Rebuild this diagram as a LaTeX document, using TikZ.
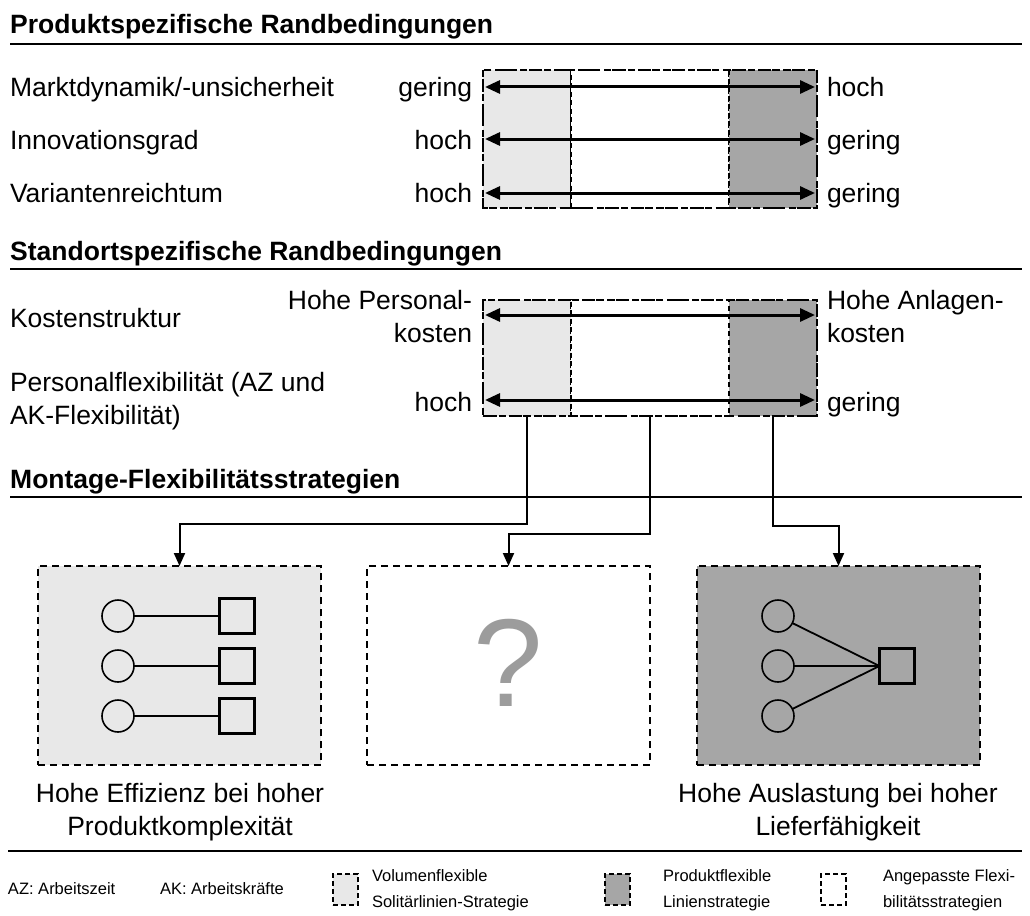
\documentclass[tikz,border=0pt]{standalone}
\usepackage{fontspec}
\setmainfont{Liberation Sans}
\usetikzlibrary{arrows.meta}
\definecolor{lightfill}{HTML}{E8E8E8}
\definecolor{darkfill}{HTML}{A6A6A6}
\definecolor{qgray}{HTML}{9C9C9C}

\begin{document}
\begin{tikzpicture}[x=1pt,y=-1pt,
  txt/.style={font=\fontsize{26.5}{33}\selectfont, inner sep=0pt, outer sep=0pt},
  head/.style={font=\fontsize{26.5}{33}\selectfont\bfseries, anchor=base west, inner sep=0pt},
  small/.style={font=\fontsize{16.5}{26}\selectfont, inner sep=0pt, outer sep=0pt, align=left},
  rule/.style={line width=2pt},
  cell/.style={draw, line width=1.1pt, dash pattern=on 5pt off 3.5pt, inner sep=0pt, outer sep=0pt},
  frame/.style={draw, line width=2pt, dash pattern=on 7pt off 5pt},
  bigbox/.style={draw, line width=2pt, dash pattern=on 7pt off 5pt, inner sep=0pt, outer sep=0pt,
    minimum width=283pt, minimum height=199pt},
  dbl/.style={line width=3pt, {Triangle[length=15pt,width=13pt]}-{Triangle[length=15pt,width=13pt]}},
  conn/.style={line width=2pt, -{Triangle[length=13pt,width=11pt]}},
  station/.style={draw, circle, line width=1.6pt, minimum size=32pt, inner sep=0pt, outer sep=0pt},
  product/.style={draw, rectangle, line width=3.5pt, minimum size=35pt, inner sep=0pt, outer sep=0pt},
  link/.style={line width=1.8pt},
  keybox/.style={draw, line width=1.8pt, dash pattern=on 5pt off 3pt, minimum width=25pt, minimum height=31pt, inner sep=0pt}
]
\useasboundingbox[fill=white] (0,0) rectangle (1030,915);

% ---------- section 1 ----------
\node[head] (h1) at (10,34) {Produktspezifische Randbedingungen};
\draw[rule] (10,44) -- (1022,44);

\node[cell, fill=lightfill, minimum width=88pt, minimum height=138pt] (pl) at (527,139) {};
\node[cell, fill=white, minimum width=158pt, minimum height=138pt] (pm) at (650,139) {};
\node[cell, fill=darkfill, minimum width=88pt, minimum height=138pt] (pr) at (773,139) {};
\draw[frame] (pl.north west) rectangle (pr.south east);

\node[txt, anchor=base west] (r1) at (10,96.5) {Marktdynamik/-unsicherheit};
\node[txt, anchor=base west] (r2) at (10,149.5) {Innovationsgrad};
\node[txt, anchor=base west] (r3) at (10,202.5) {Variantenreichtum};
\node[txt, anchor=base east] (l1) at (472,96.5) {gering};
\node[txt, anchor=base east] (l2) at (472,149.5) {hoch};
\node[txt, anchor=base east] (l3) at (472,202.5) {hoch};
\node[txt, anchor=base west] (q1) at (827,96.5) {hoch};
\node[txt, anchor=base west] (q2) at (827,149.5) {gering};
\node[txt, anchor=base west] (q3) at (827,202.5) {gering};

\coordinate (a1l) at (485,87);  \coordinate (a1r) at (815,87);
\coordinate (a2l) at (485,139); \coordinate (a2r) at (815,139);
\coordinate (a3l) at (485,193); \coordinate (a3r) at (815,193);
\draw[dbl] (a1l) -- (a1r);
\draw[dbl] (a2l) -- (a2r);
\draw[dbl] (a3l) -- (a3r);

% ---------- section 2 ----------
\node[head] (h2) at (10,260) {Standortspezifische Randbedingungen};
\draw[rule] (10,269) -- (1022,269);

\node[cell, fill=lightfill, minimum width=88pt, minimum height=116pt] (kl) at (527,358) {};
\node[cell, fill=white, minimum width=158pt, minimum height=116pt] (km) at (650,358) {};
\node[cell, fill=darkfill, minimum width=88pt, minimum height=116pt] (kr) at (773,358) {};
\draw[frame] (kl.north west) rectangle (kr.south east);

\node[txt, anchor=base west] (r4) at (10,327) {Kostenstruktur};
\node[txt, anchor=base west, align=left] (r5) at (10,424) {Personalflexibilität (AZ und\\AK-Flexibilität)};
\node[txt, anchor=base east, align=right] (l4) at (472,342) {Hohe Personal-\\kosten};
\node[txt, anchor=base east] (l5) at (472,411) {hoch};
\node[txt, anchor=base west, align=left] (q4) at (827,342) {Hohe Anlagen-\\kosten};
\node[txt, anchor=base west] (q5) at (827,411) {gering};

\coordinate (a4l) at (485,315); \coordinate (a4r) at (815,315);
\coordinate (a5l) at (485,400); \coordinate (a5r) at (815,400);
\draw[dbl] (a4l) -- (a4r);
\draw[dbl] (a5l) -- (a5r);

% ---------- section 3 ----------
\node[head] (h3) at (10,488) {Montage-Flexibilitätsstrategien};
\draw[rule] (10,497) -- (1022,497);

\node[bigbox, fill=lightfill] (b1) at (179.5,665.5) {};
\node[bigbox, fill=white] (b2) at (508.5,665.5) {};
\node[bigbox, fill=darkfill] (b3) at (838.5,665.5) {};

\draw[conn] (kl.south) -- ++(0,108) -| (b1.north);
\draw[conn] (km.south) -- ++(0,118) -| (b2.north);
\draw[conn] (kr.south) -- ++(0,110) -| (b3.north);

% solitary lines: one station per product
\foreach \i/\y in {1/616,2/666,3/716}{
  \node[station] (sc\i) at (118,\y) {};
  \node[product] (sp\i) at (237,\y) {};
  \draw[link] (sc\i) -- (sp\i);
}
% unknown strategy
\node[font=\fontsize{125}{125}\selectfont, text=qgray, inner sep=0pt] (qm) at (508,663) {?};
% flow line: several stations feeding one product
\node[product] (lp) at (897,666) {};
\foreach \i/\y in {1/616,2/666,3/716}{
  \node[station] (lc\i) at (778,\y) {};
  \draw[link] (lc\i) -- (lp.west);
}

\node[txt, align=center] (cap1) at (180,812) {Hohe Effizienz bei hoher\\Produktkomplexität};
\node[txt, align=center] (cap3) at (838,812) {Hohe Auslastung bei hoher\\Lieferfähigkeit};

\draw[rule] (8,851) -- (1022,851);

% ---------- key ----------
\node[small, anchor=west] (k1) at (8,889) {AZ: Arbeitszeit};
\node[small, anchor=west] (k2) at (160,889) {AK: Arbeitskräfte};
\node[keybox, fill=lightfill] (kb1) at (345.5,889.5) {};
\node[small, anchor=west] (kt1) at (372,890) {Volumenflexible\\Solitärlinien-Strategie};
\node[keybox, fill=darkfill] (kb2) at (617.5,889.5) {};
\node[small, anchor=west] (kt2) at (663,890) {Produktflexible\\Linienstrategie};
\node[keybox, fill=white] (kb3) at (833.5,889.5) {};
\node[small, anchor=west] (kt3) at (883,890) {Angepasste Flexi-\\bilitätsstrategien};
\end{tikzpicture}
\end{document}
